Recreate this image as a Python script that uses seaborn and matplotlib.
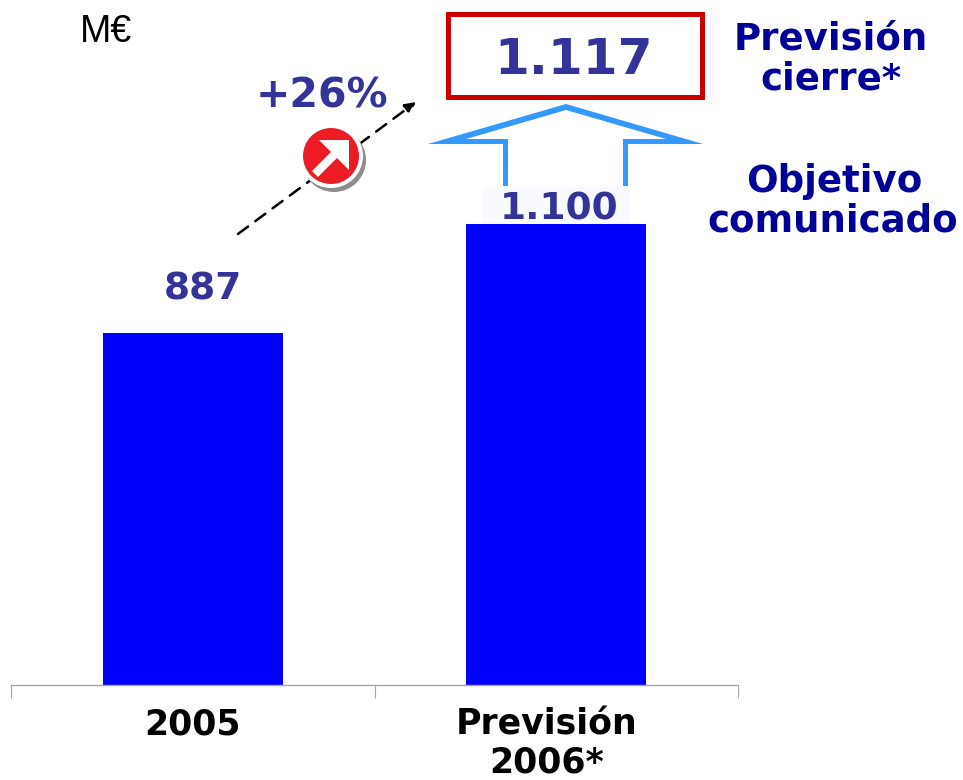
import matplotlib
matplotlib.use('Agg')
import matplotlib.pyplot as plt
import seaborn as sns
import pandas as pd
from matplotlib.patches import Circle, Polygon, Rectangle

categories = ['2005', 'Previsión\n2006*']
# bar heights as drawn in the picture (the 2005 bar is not to scale with its label)
bar_heights = [840, 1100]
bar_labels = ['887', '1.100']
forecast_label = '1.117'
growth_label = '+26%'
unit_label = 'M€'

sns.set_theme(style='white')
plt.rcParams['font.family'] = ['DejaVu Sans']

df = pd.DataFrame({'year': categories, 'value': bar_heights})

fig = plt.figure(figsize=(9.63, 7.8), dpi=100)
ax = fig.add_axes([11 / 963, 95 / 780, 727 / 963, 685 / 780])
sns.barplot(x='year', y='value', data=df, color='#0000FF', saturation=1, width=0.495, linewidth=0, ax=ax)
ax.set_xlim(-0.5, 1.5)
ax.set_ylim(0, 1634)
ax.set_xlabel('')
ax.set_ylabel('')
ax.set_yticks([])
ax.set_xticks([-0.5, 0.5, 1.5])
ax.set_xticklabels([])
ax.tick_params(axis='x', which='major', length=9.5, width=0.8, color='#A6A6A6', bottom=True)
# the second label sits a little left of its bar
ax.set_xticks([0, 0.973], minor=True)
ax.set_xticklabels(categories, minor=True, fontsize=25, fontweight='bold', color='black', linespacing=1.16)
ax.tick_params(axis='x', which='minor', length=0, pad=16)
for s in ['top', 'left', 'right']:
    ax.spines[s].set_visible(False)
ax.spines['bottom'].set_color('#A6A6A6')
ax.spines['bottom'].set_linewidth(1)
ax.patch.set_alpha(0)

# overlay in pixel coordinates for the annotations
ov = fig.add_axes([0, 0, 1, 1])
ov.set_xlim(0, 963)
ov.set_ylim(780, 0)
ov.axis('off')
ov.patch.set_alpha(0)

px = 0.72  # points per pixel

ov.add_patch(Rectangle((483, 187), 147, 37, color='#F8FAFF', lw=0))
ov.text(106, 32, unit_label, fontsize=27, family='Liberation Sans', color='black', ha='center', va='center')
ov.text(203, 289, bar_labels[0], fontsize=27, fontweight='bold', color='#333399', ha='center', va='center')
ov.text(559, 210, bar_labels[1], fontsize=27, fontweight='bold', color='#333399', ha='center', va='center')

ov.add_patch(Rectangle((447.5, 13.5), 254, 83, fill=False, ec='#CC0000', lw=5 * px, joinstyle='miter'))
ov.text(574, 60, forecast_label, fontsize=36, fontweight='bold', color='#333399', ha='center', va='center')

# hollow block arrow, outline drawn as one filled shape
ov.add_patch(Polygon([(503, 186), (503, 144), (428, 144), (566, 104), (703, 144), (628, 144), (628, 186),
                      (623, 186), (623, 139), (666, 139), (566, 110), (466, 139), (508, 139), (508, 186)],
                     closed=True, color='#3399FF', lw=0))

ov.annotate('', xy=(416, 102), xytext=(238, 234),
            arrowprops=dict(arrowstyle='-|>', linestyle=(0, (5, 3.6)), color='black', lw=1.8, mutation_scale=16,
                            shrinkA=0, shrinkB=0))
ov.text(322, 96, growth_label, fontsize=29.5, fontweight='bold', color='#333399', ha='center', va='center')

# red badge with shadow and white arrow
ov.add_patch(Circle((334, 160), 32, color='#8C8C8C', lw=0, zorder=5))
ov.add_patch(Circle((331, 156), 32, color='white', lw=0, zorder=5))
ov.add_patch(Circle((331, 156), 28, color='#ED1C24', lw=0, zorder=5))
ov.add_patch(Polygon([(349, 140), (319, 140), (331, 152), (312, 171), (318, 177), (337, 158), (349, 170)],
                     closed=True, color='white', lw=0, zorder=6))

side = dict(fontsize=26.7, fontweight='bold', color='#000099', ha='center', va='center')
ov.text(831, 39, 'Previsión', **side)
ov.text(831, 79, 'cierre*', **side)
ov.text(834, 181, 'Objetivo', **side)
ov.text(833, 221, 'comunicado', **side)

fig.savefig('out.png', dpi=100)
